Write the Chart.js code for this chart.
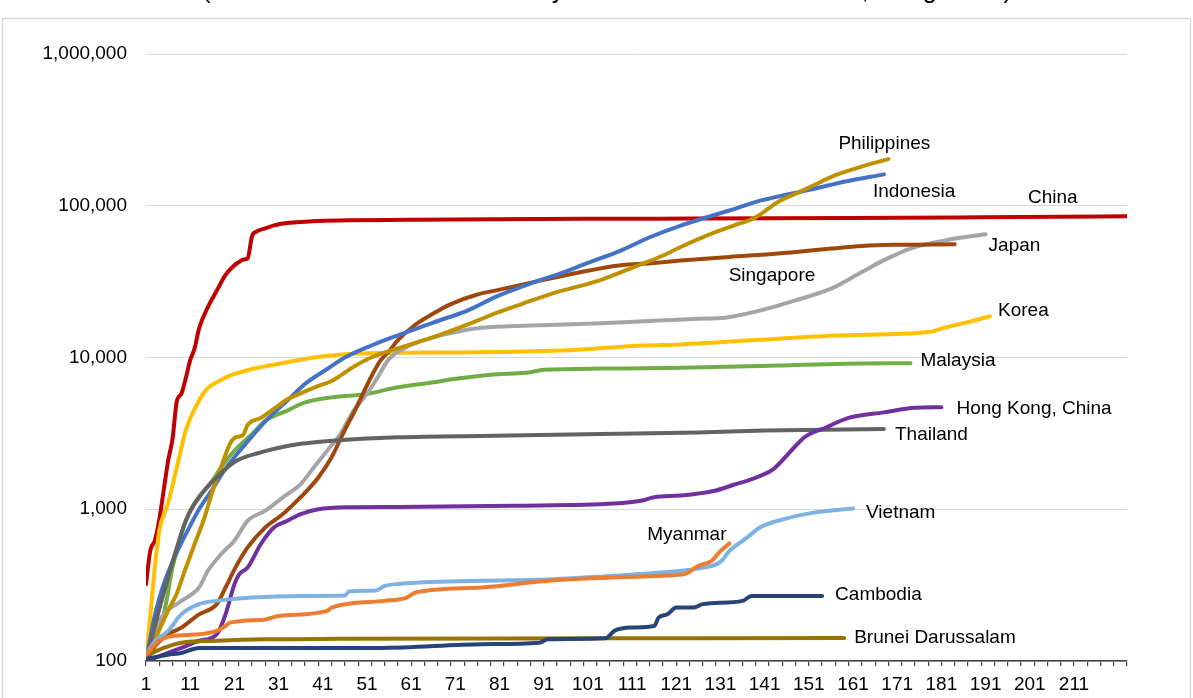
<!DOCTYPE html>
<html>
<head>
<meta charset="utf-8">
<script src="https://cdn.jsdelivr.net/npm/chart.js@4.4.1/dist/chart.umd.min.js"></script>
<style>
  html, body { margin: 0; padding: 0; background: #fff; }
  #chart { display: block; }
</style>
</head>
<body>
<canvas id="chart" width="1193" height="698"></canvas>
<script>
// helpers
const $ = s => document.querySelector(s);
const fmt = n => Number(n).toLocaleString('en-US');

// DATA: [day since 100th case, cumulative cases]
const china = [[1,321],[2,540],[3,620],[4,850],[5,1330],[6,2080],[7,2900],[8,5200],[9,5760],[10,7300],[11,9600],[12,11500],[13,15500],[15,21500],[17,27500],[19,35000],[21,40500],[22,42500],[23,44200],[24,45000],[25,63000],[26,67500],[28,71000],[30,74300],[33,76900],[37,78500],[40,79400],[47,80300],[60,80800],[80,81500],[100,82000],[125,82300],[160,83000],[190,84000],[223,85300]];
const indonesia = [[1,100],[3,200],[5,320],[7,450],[9,600],[11,780],[13,1000],[16,1350],[19,1850],[24,2800],[28,3800],[33,5200],[37,6700],[42,8400],[46,10000],[52,12000],[58,14000],[66,17000],[74,20500],[80,25000],[87,30000],[95,36000],[101,42000],[108,50000],[115,62000],[122,74000],[133,93000],[140,108000],[152,129000],[159,144000],[168,161000]];
const philippines = [[1,100],[4,160],[6,215],[8,280],[10,410],[12,590],[14,840],[16,1300],[18,1900],[20,2700],[21,2950],[23,3100],[24,3600],[27,4000],[30,4600],[33,5300],[36,5800],[40,6500],[43,7000],[48,8700],[52,10000],[58,11500],[64,13000],[70,15000],[76,17500],[80,19500],[86,22500],[94,27000],[100,30000],[104,32500],[112,40000],[118,47000],[122,53500],[129,65500],[134,74000],[139,84000],[144,106000],[148,120000],[152,136000],[157,159000],[164,185000],[169,203000]];
const singapore = [[1,100],[3,125],[6,150],[9,166],[13,203],[17,237],[19,305],[21,400],[24,560],[28,760],[32,930],[36,1200],[40,1620],[43,2200],[45,2900],[47,3800],[48,4300],[50,5700],[52,7500],[54,9500],[56,11000],[58,13000],[62,16500],[66,19500],[70,22500],[76,26000],[81,28000],[90,32000],[99,36300],[108,40400],[116,42000],[122,43500],[133,46000],[144,48400],[156,52200],[163,54300],[170,55300],[184,55700]];
const japan = [[1,100],[3,160],[5,203],[9,249],[13,305],[15,393],[18,506],[21,620],[24,840],[28,980],[32,1200],[36,1465],[39,1890],[42,2430],[45,3130],[48,4470],[51,5760],[53,7050],[56,9800],[59,11300],[63,12800],[70,14500],[76,15600],[84,16100],[90,16300],[104,16800],[117,17500],[126,18000],[132,18300],[140,20400],[148,23800],[156,28400],[163,36600],[168,43800],[174,52200],[182,59300],[191,64900]];
const korea = [[1,100],[2,203],[3,413],[4,720],[6,1100],[8,1900],[10,3300],[13,5200],[15,6300],[18,7100],[20,7600],[25,8400],[33,9300],[39,10000],[48,10600],[72,10800],[95,11100],[113,12000],[122,12200],[144,13300],[159,14000],[178,14700],[182,15800],[187,17100],[192,18700]];
const malaysia = [[1,100],[3,150],[5,203],[7,413],[9,685],[11,980],[13,1200],[16,1540],[18,1890],[21,2430],[25,3130],[28,3840],[33,4470],[37,5060],[43,5460],[51,5760],[58,6370],[65,6800],[72,7300],[79,7700],[88,8000],[91,8300],[104,8450],[122,8550],[144,8850],[159,9100],[174,9170]];
const hongKong = [[1,100],[3,105],[9,122],[13,136],[17,150],[19,203],[21,320],[22,370],[24,413],[27,590],[30,760],[33,840],[36,930],[40,1000],[47,1030],[58,1035],[84,1055],[107,1090],[113,1137],[116,1200],[122,1230],[126,1270],[130,1330],[134,1450],[137,1540],[140,1660],[143,1840],[147,2430],[150,2980],[155,3470],[160,4000],[168,4350],[175,4660],[181,4700]];
const thailand = [[1,100],[3,170],[5,280],[8,560],[10,840],[13,1200],[17,1620],[21,2050],[27,2370],[36,2700],[43,2830],[58,2980],[80,3050],[104,3130],[126,3200],[141,3300],[168,3380]];
const vietnam = [[1,110],[3,135],[6,158],[9,203],[13,237],[17,249],[25,262],[36,268],[46,270],[47,288],[53,292],[55,312],[58,322],[77,338],[92,345],[107,365],[122,393],[126,407],[131,450],[133,530],[137,650],[140,760],[144,840],[152,950],[161,1010]];
const myanmar = [[1,110],[4,136],[7,146],[13,150],[17,158],[19,170],[20,179],[28,188],[31,198],[42,214],[43,225],[55,249],[60,262],[62,283],[77,305],[92,338],[118,365],[123,375],[126,424],[129,457],[131,530],[133,595]];
const cambodia = [[1,103],[6,110],[9,113],[13,122],[54,122],[77,129],[90,132],[92,139],[105,141],[107,158],[111,166],[116,170],[117,193],[119,203],[121,225],[125,225],[127,237],[136,249],[138,268],[154,268]];
const brunei = [[1,108],[5,122],[9,132],[17,136],[28,139],[45,140],[100,141],[159,142]];

// series, top-most first (Chart.js draws dataset 0 last)
const names  = ['Myanmar','Cambodia','Brunei Darussalam','Vietnam','Hong Kong, China','Thailand','Philippines','Indonesia','Singapore','Japan','Korea','Malaysia','China'];
const values = [myanmar, cambodia, brunei, vietnam, hongKong, thailand, philippines, indonesia, singapore, japan, korea, malaysia, china];
const colors = ['#ed7d31','#264478','#997300','#7eb2e2','#7030a0','#636363','#bf9000','#4472c4','#9e480e','#a5a5a5','#ffc000','#70ad47','#c00000'];
// label placement relative to the last point of each line: [dx, dy of baseline]
const labelOffsets = [[-82,-3],[13,4],[10,5],[13,9],[15,7],[11,11],[-50,-10],[-11,23],[-226,37],[3,17],[8,0],[10,3],[-99,-13]];

// axes
const yTicks = [100, 1000, 10000, 100000, 1000000];
const firstDay = 1, lastDay = 223, lastLabelDay = 211;
const labelEvery = 10, tickEvery = 3;
const titleText = '(Cumulative confirmed cases by date since the 100th case, in log scale)';

Chart.defaults.font.family = '"Liberation Sans", Arial, sans-serif';
Chart.defaults.font.size = 19;
Chart.defaults.color = '#000';

// frame + clipped heading
const framePlugin = {
  id: 'frame',
  beforeDraw(chart) {
    const ctx = chart.ctx;
    ctx.save();
    ctx.fillStyle = '#fff';
    ctx.fillRect(0, 0, chart.width, chart.height);
    ctx.strokeStyle = '#d9d9d9';
    ctx.lineWidth = 1.5;
    ctx.strokeRect(2.5, 18.5, 1188, 720);
    // heading sits above the crop, only descenders show
    ctx.font = '20px "Liberation Sans", Arial, sans-serif';
    const w = ctx.measureText(titleText).width;
    const size = 20 * 810 / w;
    ctx.font = `${size}px "Liberation Sans", Arial, sans-serif`;
    ctx.fillStyle = '#000';
    ctx.textAlign = 'center';
    ctx.textBaseline = 'alphabetic';
    ctx.fillText(titleText, 607, -2.5);
    ctx.restore();
  }
};

// country names next to line ends
const labelPlugin = {
  id: 'endLabels',
  afterDatasetsDraw(chart) {
    const ctx = chart.ctx;
    ctx.save();
    ctx.font = '19px "Liberation Sans", Arial, sans-serif';
    ctx.fillStyle = '#000';
    ctx.textAlign = 'left';
    ctx.textBaseline = 'alphabetic';
    chart.data.datasets.forEach((ds, i) => {
      const pts = chart.getDatasetMeta(i).data;
      const last = pts[pts.length - 1];
      const [dx, dy] = labelOffsets[i];
      ctx.fillText(names[i], last.x + dx, last.y + dy);
    });
    ctx.restore();
  }
};

const datasets = names.map((name, i) => ({
  label: name,
  data: values[i].map(([d, v]) => ({ x: d, y: v })),
  borderColor: colors[i],
  borderWidth: 4,
  borderCapStyle: 'round',
  borderJoinStyle: 'round',
  pointRadius: 0,
  fill: false,
  cubicInterpolationMode: 'monotone'
}));

new Chart($('#chart').getContext('2d'), {
  type: 'line',
  data: { datasets },
  options: {
    responsive: false,
    animation: false,
    devicePixelRatio: 1,
    layout: { padding: { left: 0, right: 66, top: 54, bottom: 0 } },
    plugins: { legend: { display: false }, tooltip: { enabled: false } },
    scales: {
      x: {
        type: 'linear',
        min: firstDay,
        max: lastDay,
        afterFit: s => { s.height = 37; },
        border: { display: true, color: '#404040', width: 1.5 },
        grid: {
          drawOnChartArea: false,
          drawTicks: true,
          tickLength: 5,
          lineWidth: 1.2,
          color: c => c.tick && (c.tick.value - firstDay) % tickEvery === 0 ? '#404040' : 'rgba(0,0,0,0)'
        },
        ticks: {
          stepSize: 1,
          autoSkip: false,
          maxRotation: 0,
          minRotation: 0,
          padding: 7,
          color: '#000',
          callback: v => ((v - firstDay) % labelEvery === 0 && v <= lastLabelDay) ? String(v) : ''
        }
      },
      y: {
        type: 'logarithmic',
        min: 100,
        max: 1000000,
        afterFit: s => { s.width = 146; },
        afterBuildTicks: s => { s.ticks = yTicks.map(v => ({ value: v })); },
        border: { display: false },
        grid: { color: '#d9d9d9', lineWidth: 1, drawTicks: false },
        ticks: {
          padding: 19,
          color: '#000',
          callback: v => fmt(v)
        }
      }
    }
  },
  plugins: [framePlugin, labelPlugin]
});
</script>
</body>
</html>
